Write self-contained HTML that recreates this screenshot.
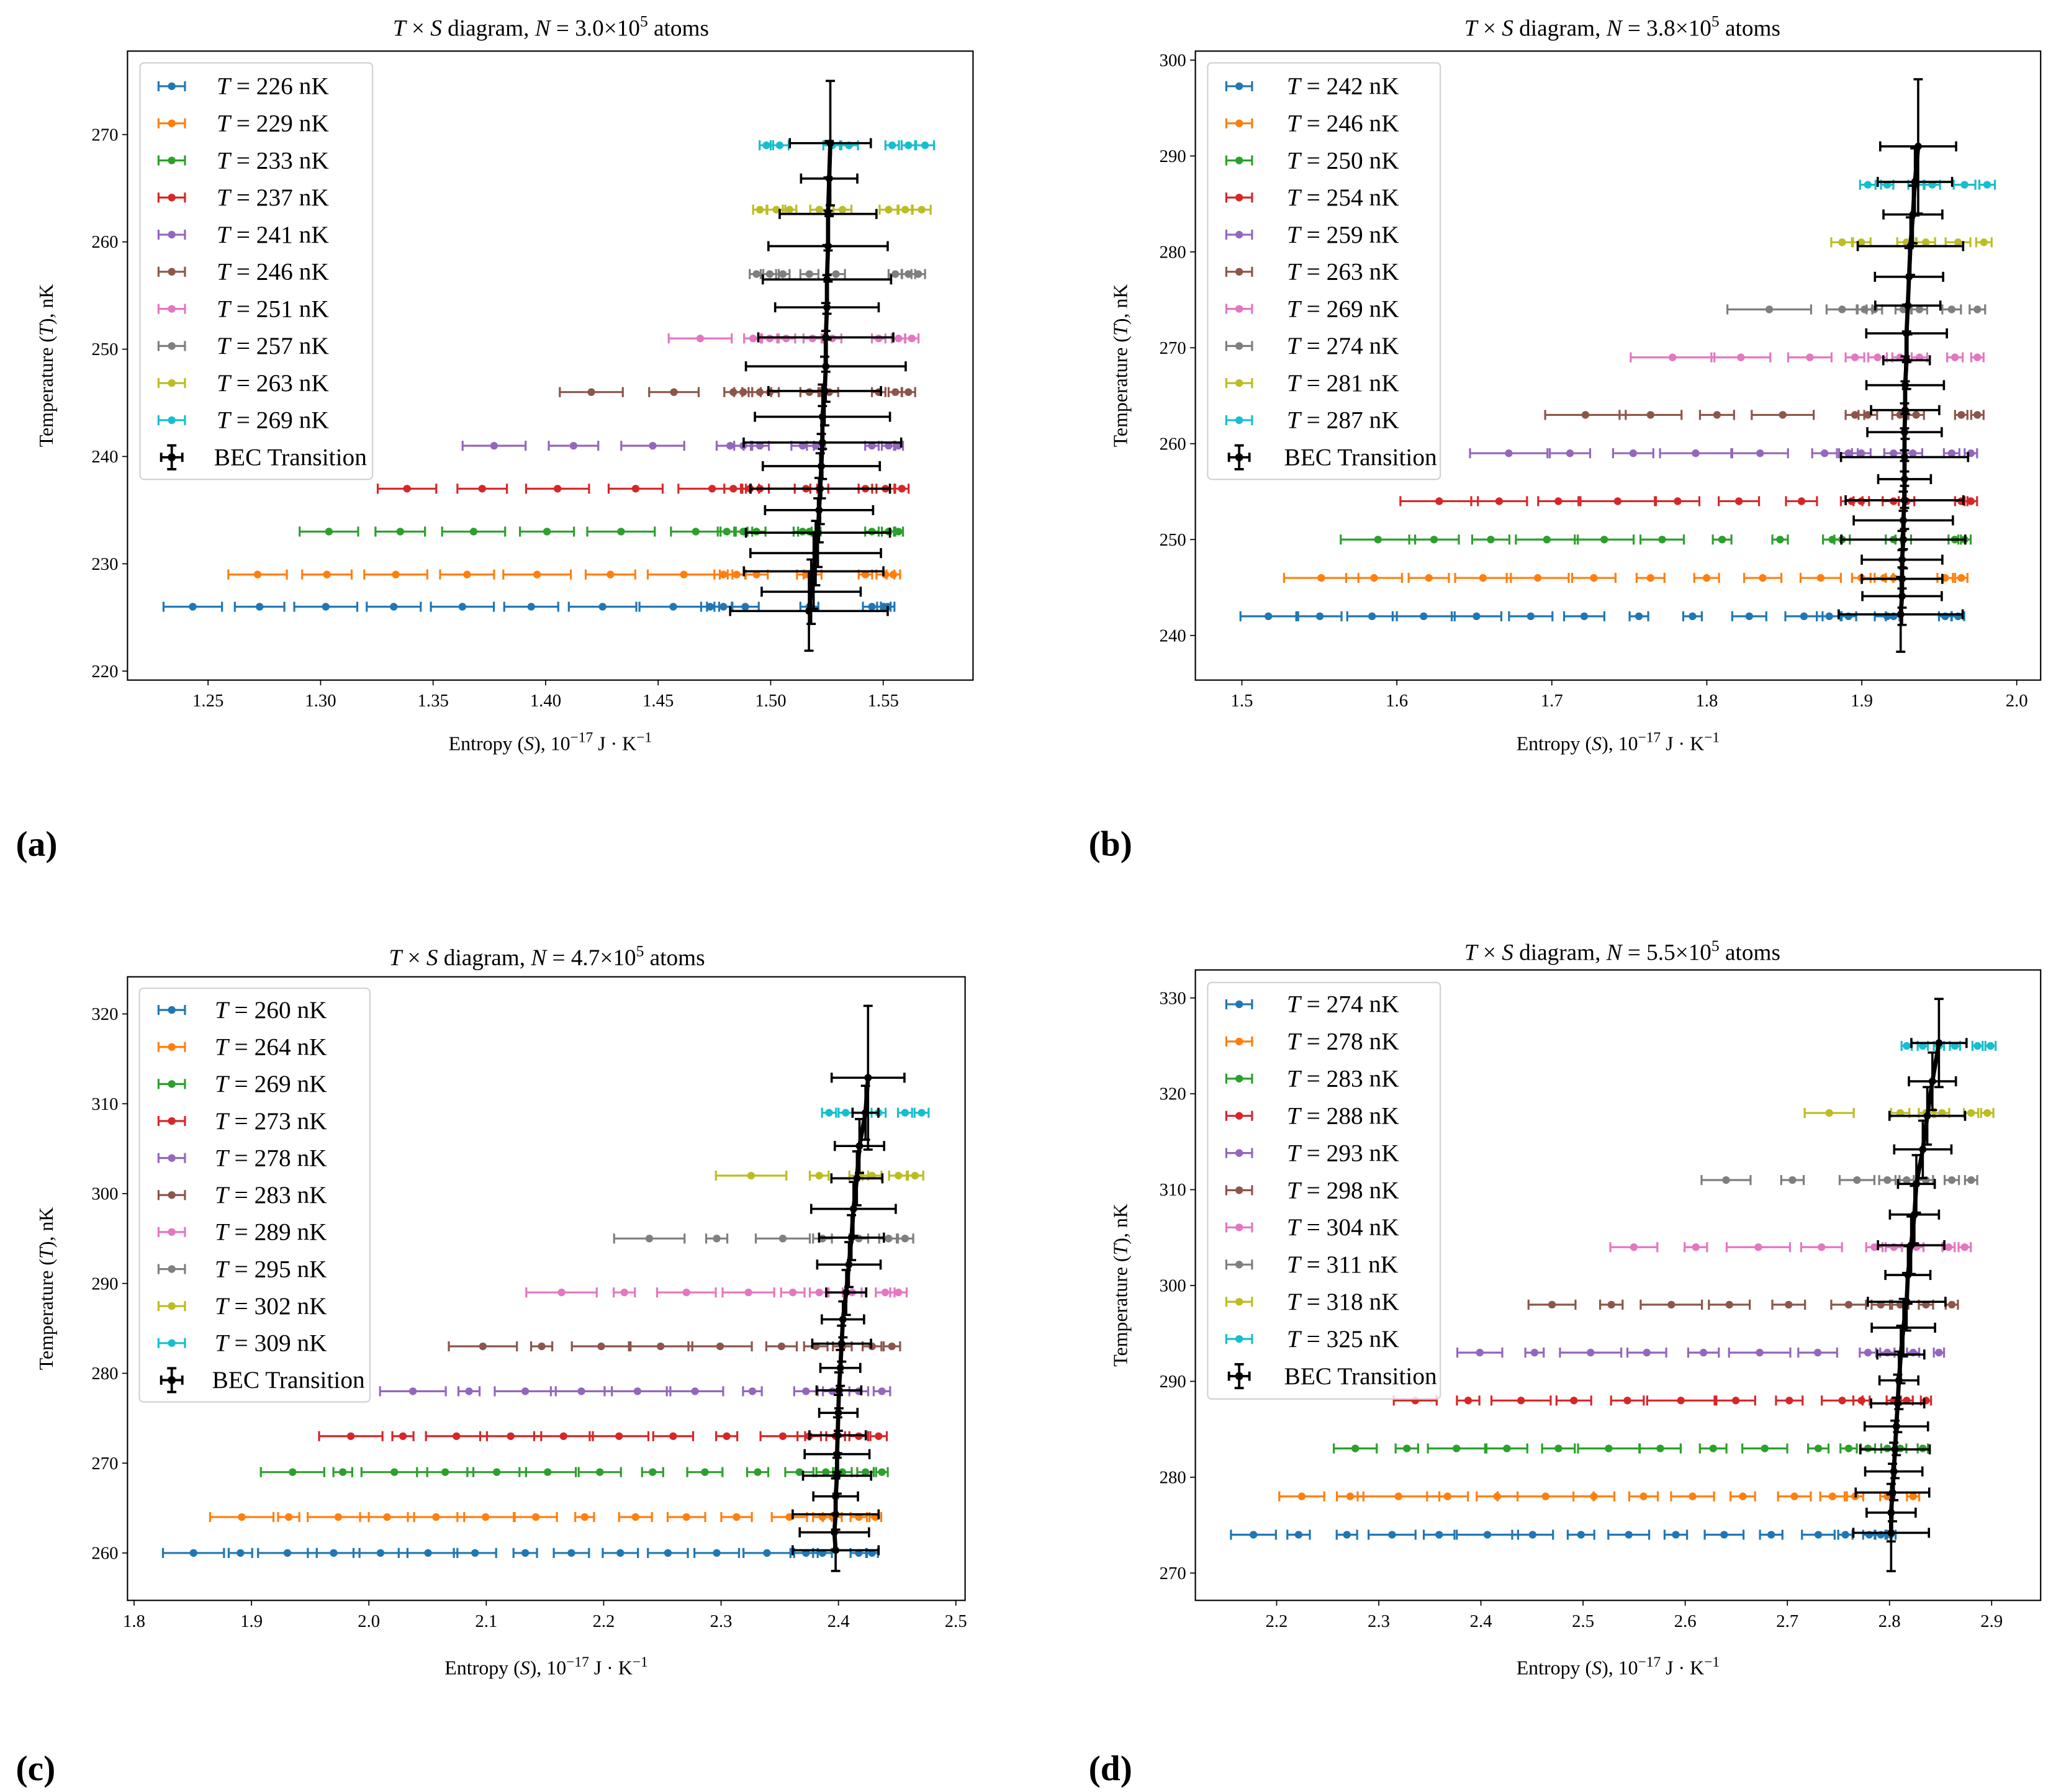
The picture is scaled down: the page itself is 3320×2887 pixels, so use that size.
<!DOCTYPE html>
<html><head><meta charset="utf-8">
<style>
html,body{margin:0;padding:0;background:#fff;}
svg{display:block;}
text{font-family:"Liberation Serif","DejaVu Serif",serif;fill:#000;}
.tick{font-size:13.5px;}
.ttl{font-size:17.5px;}
.axl{font-size:15px;}
.leg{font-size:18.5px;}
.plab{font-family:"Liberation Serif","DejaVu Serif",serif;font-weight:bold;font-size:27px;}
</style></head>
<body>
<svg id="fig" width="3320" height="2887" viewBox="0 0 1560 1357" preserveAspectRatio="none" xmlns="http://www.w3.org/2000/svg"></svg>
<script>
// ---------- data ----------
const colors = ["#1f77b4","#ff7f0e","#2ca02c","#d62728","#9467bd","#8c564b","#e377c2","#7f7f7f","#bcbd22","#17becf"];

const aTemps = [226,229,233,237,241,246,251,257,263,269];
const aS = [
 [1.2432,1.2729,1.3023,1.3325,1.363,1.3936,1.4253,1.4567,1.4731,1.479,1.4887,1.5172,1.545,1.5503,1.552],
 [1.272,1.3028,1.3334,1.3651,1.3962,1.4288,1.4614,1.479,1.4849,1.4937,1.5157,1.5186,1.5421,1.551,1.5545],
 [1.3037,1.3354,1.368,1.4006,1.4335,1.4667,1.4805,1.4878,1.4937,1.5142,1.5172,1.545,1.5524,1.5568],
 [1.3384,1.3718,1.4053,1.44,1.474,1.4834,1.4908,1.4952,1.5157,1.5216,1.5421,1.551,1.5583],
 [1.3771,1.4124,1.4476,1.482,1.4878,1.4952,1.5142,1.5201,1.545,1.5524,1.5568],
 [1.4203,1.457,1.4834,1.4878,1.4952,1.4996,1.5172,1.526,1.548,1.5554,1.5612],
 [1.4687,1.4922,1.4996,1.5069,1.5186,1.5274,1.548,1.5568,1.5627],
 [1.4937,1.4996,1.5054,1.5172,1.529,1.5554,1.5612,1.5656],
 [1.4952,1.5025,1.5084,1.5216,1.5319,1.5524,1.5598,1.5671],
 [1.4981,1.504,1.5274,1.5348,1.554,1.5612,1.5686]];
const aErr = [
 [.013,.011,.014,.012,.014,.012,.015,.015,.004,.004,.006,.004,.004,.003,.003],
 [.013,.011,.014,.012,.015,.011,.016,.004,.004,.005,.004,.004,.003,.004,.003],
 [.013,.011,.014,.012,.015,.011,.004,.004,.004,.004,.005,.003,.003,.002],
 [.013,.011,.014,.012,.015,.004,.004,.004,.005,.004,.003,.004,.003],
 [.014,.011,.014,.006,.004,.004,.005,.004,.003,.003,.002],
 [.014,.011,.004,.004,.005,.004,.004,.004,.003,.003,.003],
 [.014,.004,.004,.004,.004,.004,.003,.003,.003],
 [.003,.004,.003,.004,.004,.003,.003,.003],
 [.003,.004,.003,.004,.004,.004,.003,.004],
 [.003,.004,.004,.004,.003,.003,.004]];
const aBecT = [225.6,227.4,229.3,231.0,232.9,235.0,237.0,239.1,241.3,243.7,246.1,248.4,251.1,253.9,256.5,259.6,262.6,265.9,269.2];
const aBecS = [1.517,1.518,1.5191,1.52,1.521,1.5215,1.522,1.5225,1.523,1.523,1.524,1.5245,1.5245,1.525,1.525,1.5255,1.5255,1.526,1.5265];
const aBecSerr = [.035,.022,.031,.029,.032,.024,.031,.026,.035,.03,.025,.0355,.03,.023,.0285,.0265,.0215,.0125,.018];
const aBecTerr = [3.7,3,3.5,3,3.2,3,3.3,3,3.4,3,3.2,3.3,3.2,3,3.2,3.3,3.4,3.5,5.8];
const aXTicks = ["1.25","1.30","1.35","1.40","1.45","1.50","1.55"];
const aYTicks = [220,230,240,250,260,270];

const bTemps = [242,246,250,254,259,263,269,274,281,287];
const bS = [
 [1.5171,1.5503,1.584,1.6173,1.6514,1.6864,1.7209,1.7562,1.7908,1.8274,1.8627,1.879,1.8914,1.9164,1.9205,1.9538,1.9621],
 [1.5512,1.5853,1.6206,1.6556,1.6909,1.7271,1.7637,1.7999,1.8361,1.8735,1.8997,1.9143,1.9205,1.9538,1.9642],
 [1.5878,1.624,1.6606,1.6968,1.7338,1.7712,1.8099,1.8473,1.881,1.8873,1.9205,1.9268,1.96,1.9663],
 [1.6273,1.666,1.7042,1.7425,1.7812,1.8207,1.8611,1.8935,1.8997,1.9205,1.9289,1.9642,1.9704],
 [1.6722,1.7117,1.7525,1.7928,1.8344,1.876,1.8914,1.8997,1.9205,1.933,1.958,1.9704],
 [1.7217,1.7637,1.8066,1.849,1.8956,1.9039,1.9247,1.9351,1.9642,1.9746],
 [1.7779,1.822,1.8665,1.8956,1.9102,1.9247,1.9372,1.9601,1.9746],
 [1.8403,1.8873,1.9018,1.9081,1.9268,1.9372,1.958,1.9746],
 [1.8873,1.8997,1.9289,1.9413,1.9621,1.9788],
 [1.9039,1.9164,1.935,1.9455,1.9663,1.9809]];
const bErr = [
 [.018,.014,.016,.02,.016,.014,.013,.006,.006,.011,.012,.008,.005,.008,.005,.004,.004],
 [.024,.018,.013,.018,.02,.014,.009,.008,.012,.013,.006,.006,.005,.005,.004],
 [.024,.016,.012,.02,.019,.014,.006,.005,.006,.005,.005,.005,.004,.004],
 [.025,.018,.013,.024,.014,.013,.01,.007,.005,.007,.005,.004,.004],
 [.025,.013,.013,.023,.018,.008,.006,.006,.006,.006,.005,.004],
 [.026,.02,.011,.02,.006,.006,.005,.005,.004,.004],
 [.027,.019,.014,.006,.006,.005,.005,.005,.004],
 [.027,.01,.005,.005,.005,.005,.006,.005],
 [.007,.006,.006,.006,.008,.005],
 [.005,.004,.005,.005,.007,.005]];
const bBecT = [242.2,244.1,245.9,247.9,250,252,254.1,256.3,258.6,261.2,263.5,266.1,268.7,271.5,274.4,277.4,280.6,283.9,287.3,291];
const bBecS = [1.9251,1.926,1.926,1.926,1.9268,1.9268,1.9276,1.9276,1.9276,1.9276,1.928,1.928,1.9289,1.9289,1.9297,1.9305,1.9314,1.933,1.9343,1.9364];
const bBecSerr = [.04,.0256,.026,.026,.04,.032,.038,.017,.041,.024,.022,.025,.015,.026,.021,.022,.034,.019,.024,.0245];
const bBecTerr = [3.9,3,3,3,3,3,3,3,3,3,3,3,3,3,3,3,3,3,3.5,7];
const bXTicks = ["1.5","1.6","1.7","1.8","1.9","2.0"];
const bYTicks = [240,250,260,270,280,290,300];

const cTemps = [260,264,269,273,278,283,289,295,302,309];
const cS = [
 [1.8506,1.8906,1.9306,1.97,2.0099,2.0504,2.0904,2.1332,2.1725,2.2142,2.2547,2.2963,2.3391,2.3723,2.3864,2.4173,2.4286],
 [1.8917,1.9317,1.9739,2.0155,2.0572,2.0994,2.1422,2.1838,2.2271,2.2705,2.3132,2.3582,2.3864,2.3948,2.4173,2.4314],
 [1.935,1.9778,2.0217,2.065,2.1089,2.1523,2.1967,2.2417,2.2862,2.3312,2.3667,2.3892,2.4033,2.423,2.437],
 [1.9846,2.029,2.0746,2.1208,2.1658,2.2131,2.2592,2.3048,2.3526,2.3751,2.3976,2.4173,2.4342],
 [2.0375,2.0853,2.1332,2.181,2.2288,2.2778,2.3267,2.3723,2.3948,2.4173,2.437],
 [2.0971,2.1472,2.1979,2.2485,2.2992,2.3515,2.3807,2.4033,2.4286,2.4455],
 [2.1641,2.2176,2.2705,2.3233,2.3611,2.3836,2.4117,2.4398,2.4511],
 [2.2389,2.2963,2.3526,2.3864,2.4173,2.4427,2.4567],
 [2.3256,2.3836,2.4173,2.4286,2.4511,2.4652],
 [2.392,2.4061,2.4342,2.4567,2.4708]];
const cErr = [
 [.026,.01,.025,.022,.023,.025,.018,.01,.015,.015,.017,.019,.02,.01,.008,.007,.005],
 [.027,.009,.026,.023,.024,.024,.018,.008,.014,.016,.013,.015,.008,.008,.007,.005],
 [.027,.008,.028,.024,.025,.024,.018,.009,.015,.009,.012,.008,.008,.007,.005],
 [.027,.009,.026,.026,.025,.025,.017,.009,.019,.01,.008,.008,.007],
 [.028,.009,.026,.026,.028,.024,.008,.01,.008,.008,.007],
 [.029,.009,.025,.027,.027,.013,.01,.008,.008,.007],
 [.03,.009,.025,.022,.01,.008,.008,.008,.007],
 [.03,.009,.023,.008,.008,.008,.007],
 [.03,.008,.008,.008,.008,.007],
 [.006,.006,.006,.006,.006]];
const cBecT = [260.3,262.3,264.3,266.3,268.6,271,273.1,275.6,278.1,280.6,283.3,286,289,292.1,295.1,298.3,301.7,305.3,309,312.9];
const cBecS = [2.3976,2.3965,2.3976,2.3976,2.3988,2.3988,2.3993,2.3999,2.4004,2.4016,2.4027,2.4038,2.4066,2.4089,2.4111,2.4128,2.4157,2.4179,2.423,2.4252];
const cBecSerr = [.0366,.0295,.0366,.019,.029,.0276,.024,.0163,.019,.017,.025,.018,.017,.027,.0276,.036,.0217,.021,.011,.031];
const cBecTerr = [2.3,2,2,2,2,2,2,2,2,2,2,2,2.5,2.5,2.5,3,3,3,3,8];
const cXTicks = ["1.8","1.9","2.0","2.1","2.2","2.3","2.4","2.5"];
const cYTicks = [260,270,280,290,300,310,320];

const dTemps = [274,278,283,288,293,298,304,311,318,325];
const dS = [
 [2.1773,2.2215,2.2688,2.313,2.3591,2.4064,2.4506,2.498,2.5447,2.5908,2.6381,2.6842,2.7303,2.7568,2.7802,2.7915,2.801],
 [2.2246,2.272,2.3193,2.3673,2.4159,2.4633,2.5106,2.5592,2.6072,2.6564,2.7069,2.7442,2.7663,2.7979,2.8231],
 [2.277,2.3275,2.3761,2.4254,2.4759,2.5251,2.5756,2.6274,2.6779,2.7303,2.76,2.7789,2.7979,2.8105,2.8326],
 [2.3357,2.3875,2.4393,2.491,2.5434,2.5958,2.6495,2.7019,2.7537,2.7726,2.8042,2.8168,2.8357],
 [2.3989,2.4525,2.5074,2.5624,2.6179,2.6729,2.7297,2.7789,2.7979,2.8231,2.8484],
 [2.4696,2.5277,2.5864,2.6432,2.7013,2.76,2.7915,2.8105,2.8357,2.861],
 [2.5497,2.6104,2.6716,2.7335,2.7852,2.8042,2.8263,2.8578,2.8736],
 [2.64,2.705,2.7682,2.7979,2.8168,2.8357,2.861,2.8799],
 [2.741,2.8105,2.8357,2.8515,2.8799,2.8957],
 [2.8168,2.8326,2.8484,2.8641,2.8862,2.8989]];
const dErr = [
 [.022,.011,.01,.023,.015,.03,.02,.013,.02,.011,.019,.011,.016,.007,.006,.006,.005],
 [.022,.013,.04,.02,.02,.047,.02,.014,.021,.012,.016,.012,.008,.007,.006],
 [.021,.011,.028,.02,.016,.03,.02,.013,.022,.01,.008,.007,.006,.006,.005],
 [.021,.011,.029,.017,.016,.033,.019,.013,.02,.008,.007,.006,.005],
 [.022,.009,.03,.019,.015,.03,.019,.008,.007,.006,.005],
 [.023,.011,.03,.02,.016,.017,.009,.008,.007,.006],
 [.023,.011,.031,.02,.008,.008,.007,.006,.006],
 [.024,.011,.017,.008,.007,.007,.007,.006],
 [.024,.009,.007,.007,.007,.006],
 [.005,.005,.005,.005,.005,.005]];
const dBecT = [274.2,276.3,278.4,280.6,282.9,285.3,287.7,290.1,292.8,295.6,298.3,301.1,304.2,307.4,310.6,314.2,317.7,321.3,325.3];
const dBecS = [2.8016,2.8016,2.8029,2.8042,2.8054,2.8067,2.808,2.8092,2.8111,2.8136,2.8168,2.818,2.8212,2.8244,2.8263,2.8326,2.837,2.842,2.8484];
const dBecSerr = [.037,.024,.036,.028,.034,.031,.026,.019,.023,.031,.038,.022,.0325,.024,.018,.028,.037,.023,.027];
const dBecTerr = [4,3,3,3,3,3,3,3,3,3,3,3,3,3,3,3,3,3,4.6];
const dXTicks = ["2.2","2.3","2.4","2.5","2.6","2.7","2.8","2.9"];
const dYTicks = [270,280,290,300,310,320,330];

// ---------- drawing ----------
const NS = "http://www.w3.org/2000/svg";
const fig = document.getElementById('fig');
function mk(tag, attrs, parent){
  const e = document.createElementNS(NS, tag);
  for (const k in attrs) e.setAttribute(k, attrs[k]);
  (parent||fig).appendChild(e);
  return e;
}
function lin(d0,d1,p0,p1){ return v => p0 + (v-d0)*(p1-p0)/(d1-d0); }

const panels = [
 {id:'a', N:'3.0', temps:aTemps, S:aS, E:aErr, bT:aBecT, bS:aBecS, bSe:aBecSerr, bTe:aBecTerr, xt:aXTicks, yt:aYTicks,
  box:[96.5,38.7,736.5,515], xd:[1.25,1.55], xp:[157.5,668.5], yd:[270,220], yp:[101.9,508.2],
  titleX:417, titleY:27, xlY:568, ylX:40, lab:[12,648],
  leg:{x0:106,y0:47.6,x1:282,y1:363, mx0:120, mx1:140, tx:164, ey0:65.3, step:28.1}},
 {id:'b', N:'3.8', temps:bTemps, S:bS, E:bErr, bT:bBecT, bS:bBecS, bSe:bBecSerr, bTe:bBecTerr, xt:bXTicks, yt:bYTicks,
  box:[904.8,38.7,1544.6,515], xd:[1.5,2.0], xp:[940.0,1526.5], yd:[300,240], yp:[45.5,481.2],
  titleX:1228, titleY:27, xlY:568, ylX:853, lab:[824,648],
  leg:{x0:914.1,y0:47.6,x1:1090.2,y1:363, mx0:928.2, mx1:947.7, tx:974, ey0:65.3, step:28.1}},
 {id:'c', N:'4.7', temps:cTemps, S:cS, E:cErr, bT:cBecT, bS:cBecS, bSe:cBecSerr, bTe:cBecTerr, xt:cXTicks, yt:cYTicks,
  box:[96.5,739.7,730.5,1211.9], xd:[1.8,2.5], xp:[101.5,723.5], yd:[320,260], yp:[767.8,1176.0],
  titleX:414, titleY:731, xlY:1268, ylX:40, lab:[12,1348],
  leg:{x0:105.5,y0:748.4,x1:280,y1:1061.6, mx0:120, mx1:140, tx:162.5, ey0:764.8, step:28.03}},
 {id:'d', N:'5.5', temps:dTemps, S:dS, E:dErr, bT:dBecT, bS:dBecS, bSe:dBecSerr, bTe:dBecTerr, xt:dXTicks, yt:dYTicks,
  box:[904.8,734.5,1544.6,1211.9], xd:[2.2,2.9], xp:[966.3,1507.5], yd:[330,270], yp:[755.7,1191.2],
  titleX:1228, titleY:727, xlY:1268, ylX:853, lab:[824,1348],
  leg:{x0:914.1,y0:744,x1:1090.2,y1:1059.4, mx0:928.2, mx1:947.7, tx:974, ey0:760.5, step:28.16}}
];

panels.forEach(p => {
  const g = mk('g', {});
  
  
  const X = lin(p.xd[0], p.xd[1], p.xp[0], p.xp[1]);
  const Y = lin(p.yd[0], p.yd[1], p.yp[0], p.yp[1]);
  const [L,T,R,B] = p.box;

  const t = mk('text', {x:p.titleX, y:p.titleY, 'text-anchor':'middle', class:'ttl'}, g);
  
  
  t.innerHTML = '<tspan font-style="italic">T</tspan> × <tspan font-style="italic">S</tspan> diagram, <tspan font-style="italic">N</tspan> = ' + p.N + '×10<tspan dy="-7" font-size="12">5</tspan><tspan dy="7"> atoms</tspan>';

  const xg = mk('g', {}, g);
  
  
  p.xt.forEach(lbl => {
    const v = parseFloat(lbl), px = X(v);
    mk('line', {x1:px, x2:px, y1:B, y2:B+4, stroke:'#000', 'stroke-width':0.8}, xg);
    const tx = mk('text', {x:px, y:B+20, 'text-anchor':'middle', class:'tick'}, xg);
    
    
    tx.textContent = lbl;
  });
  const yg = mk('g', {}, g);
  
  
  p.yt.forEach(v => {
    const py = Y(v);
    mk('line', {x1:L-4, x2:L, y1:py, y2:py, stroke:'#000', 'stroke-width':0.8}, yg);
    const ty = mk('text', {x:L-7, y:py+4.5, 'text-anchor':'end', class:'tick'}, yg);
    
    
    ty.textContent = v;
  });

  const xl = mk('text', {x:(L+R)/2, y:p.xlY, 'text-anchor':'middle', class:'axl'}, g);
  
  
  xl.innerHTML = 'Entropy (<tspan font-style="italic">S</tspan>), 10<tspan dy="-6" font-size="11">−17</tspan><tspan dy="6"> J · K</tspan><tspan dy="-6" font-size="11">−1</tspan>';
  const cy = (T+B)/2;
  const yl = mk('text', {x:p.ylX, y:cy, 'text-anchor':'middle', class:'axl', transform:'rotate(-90 '+p.ylX+' '+cy+')'}, g);
  
  
  yl.innerHTML = 'Temperature (<tspan font-style="italic">T</tspan>), nK';

  const pl = mk('text', {x:p.lab[0], y:p.lab[1], class:'plab'}, g);
  
  
  pl.textContent = '(' + p.id + ')';

  const sg = mk('g', {}, g);
  
  
  p.temps.forEach((temp, i) => {
    const col = colors[i];
    const ser = mk('g', {stroke:col, fill:col, 'stroke-width':1.5}, sg);
    
    
    const py = Y(temp);
    p.S[i].forEach((s, j) => {
      const e = p.E[i][j];
      const x0 = X(s - e), x1 = X(s + e);
      mk('line', {x1:x0, x2:x1, y1:py, y2:py}, ser);
      mk('line', {x1:x0, x2:x0, y1:py-3.8, y2:py+3.8}, ser);
      mk('line', {x1:x1, x2:x1, y1:py-3.8, y2:py+3.8}, ser);
      const c = mk('circle', {cx:X(s), cy:py, r:2.9, stroke:'none'}, ser);
      
      
    });
  });

  const bg = mk('g', {stroke:'#000', fill:'#000', 'stroke-width':1.7}, g);
  
  
  p.bT.forEach((tv, j) => {
    const px = X(p.bS[j]), py = Y(tv);
    const xa = X(p.bS[j] - p.bSe[j]), xb = X(p.bS[j] + p.bSe[j]);
    const ya = Y(tv - p.bTe[j]), yb = Y(tv + p.bTe[j]);
    mk('line', {x1:px, x2:px, y1:ya, y2:yb}, bg);
    mk('line', {x1:px-3.5, x2:px+3.5, y1:ya, y2:ya}, bg);
    mk('line', {x1:px-3.5, x2:px+3.5, y1:yb, y2:yb}, bg);
    mk('line', {x1:xa, x2:xb, y1:py, y2:py}, bg);
    mk('line', {x1:xa, x2:xa, y1:py-3.8, y2:py+3.8}, bg);
    mk('line', {x1:xb, x2:xb, y1:py-3.8, y2:py+3.8}, bg);
    const c = mk('circle', {cx:px, cy:py, r:2.8, stroke:'none'}, bg);
    
    
  });
  let d = '';
  p.bT.forEach((tv, j) => { d += (j ? 'L' : 'M') + X(p.bS[j]) + ',' + Y(tv); });
  mk('path', {d:d, stroke:'#000', 'stroke-width':3.2, fill:'none', 'stroke-linejoin':'round'}, bg);

  const fr = mk('rect', {x:L, y:T, width:R-L, height:B-T, fill:'none', stroke:'#000', 'stroke-width':1}, g);
  
  

  const lg = p.leg;
  const leg = mk('g', {}, g);
  
  
  mk('rect', {x:lg.x0, y:lg.y0, width:lg.x1-lg.x0, height:lg.y1-lg.y0, rx:3, fill:'#fff', 'fill-opacity':0.8, stroke:'#d0d0d0', 'stroke-width':1}, leg);
  p.temps.forEach((temp, i) => {
    const ey = lg.ey0 + i*lg.step, col = colors[i];
    const en = mk('g', {stroke:col, fill:col, 'stroke-width':1.5}, leg);
    
    
    mk('line', {x1:lg.mx0, x2:lg.mx1, y1:ey, y2:ey}, en);
    mk('line', {x1:lg.mx0, x2:lg.mx0, y1:ey-3.8, y2:ey+3.8}, en);
    mk('line', {x1:lg.mx1, x2:lg.mx1, y1:ey-3.8, y2:ey+3.8}, en);
    mk('circle', {cx:(lg.mx0+lg.mx1)/2, cy:ey, r:2.9, stroke:'none'}, en);
    const tx = mk('text', {x:lg.tx, y:ey+6, class:'leg', stroke:'none', fill:'#000'}, en);
    tx.innerHTML = '<tspan font-style="italic">T</tspan> = ' + temp + ' nK';
  });
  const ey = lg.ey0 + 10*lg.step, mx = (lg.mx0+lg.mx1)/2;
  const be = mk('g', {stroke:'#000', fill:'#000', 'stroke-width':1.8}, leg);
  
  
  mk('line', {x1:lg.mx0+2, x2:lg.mx1-2, y1:ey, y2:ey}, be);
  mk('line', {x1:mx, x2:mx, y1:ey-9, y2:ey+9}, be);
  mk('line', {x1:mx-3.5, x2:mx+3.5, y1:ey-9, y2:ey-9}, be);
  mk('line', {x1:mx-3.5, x2:mx+3.5, y1:ey+9, y2:ey+9}, be);
  mk('line', {x1:lg.mx0+2, x2:lg.mx0+2, y1:ey-3.5, y2:ey+3.5}, be);
  mk('line', {x1:lg.mx1-2, x2:lg.mx1-2, y1:ey-3.5, y2:ey+3.5}, be);
  mk('circle', {cx:mx, cy:ey, r:3, stroke:'none'}, be);
  const bt = mk('text', {x:lg.tx - 2, y:ey+6, class:'leg', stroke:'none', fill:'#000'}, be);
  bt.textContent = 'BEC Transition';
});
</script>
</body></html>
